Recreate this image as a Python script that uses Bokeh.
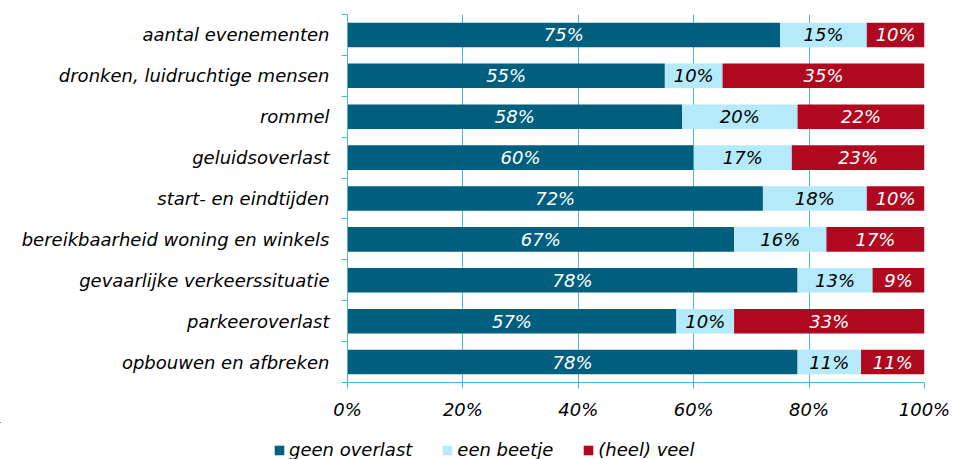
from bokeh.plotting import figure
from bokeh.layouts import column
from bokeh.models import ColumnDataSource, FixedTicker, Legend, LegendItem, Range1d
from bokeh.embed import file_html
from bokeh.resources import INLINE
from bokeh.core.properties import value

categories = [
    "aantal evenementen",
    "dronken, luidruchtige mensen",
    "rommel",
    "geluidsoverlast",
    "start- en eindtijden",
    "bereikbaarheid woning en winkels",
    "gevaarlijke verkeerssituatie",
    "parkeeroverlast",
    "opbouwen en afbreken",
]
geen_overlast = [75, 55, 58, 60, 72, 67, 78, 57, 78]
een_beetje = [15, 10, 20, 17, 18, 16, 13, 10, 11]
heel_veel = [10, 35, 22, 23, 10, 17, 9, 33, 11]
series_names = ["geen overlast", "een beetje", "(heel) veel"]
x_ticks = [0, 20, 40, 60, 80, 100]

colors = ["#005e7e", "#b5eafb", "#b0081e"]
label_colors = ["white", "black", "white"]
grid_color = "#4db6de"
FONT = "DejaVu Sans"
FS = "18px"

n = len(categories)
ys = [n - i for i in range(n)]

src = ColumnDataSource(dict(y=ys, cat=categories, a=geen_overlast, b=een_beetje, c=heel_veel))

p = figure(width=954, height=422, output_backend="svg", toolbar_location=None,
           x_range=Range1d(0, 100), y_range=Range1d(0.5, n + 0.5),
           min_border_left=347, min_border_right=30, min_border_top=14, min_border_bottom=40)
p.frame_align = False
p.outline_line_color = None
p.background_fill_color = "white"

renderers = p.hbar_stack(["a", "b", "c"], y="y", height=0.6, source=src,
                         color=colors, line_color=None)

# labels
vals = [geen_overlast, een_beetje, heel_veel]
for k in range(3):
    xs = []
    for i in range(n):
        start = sum(vals[j][i] for j in range(k))
        xs.append(start + vals[k][i] / 2)
    lsrc = ColumnDataSource(dict(x=xs, y=ys, t=[f"{v}%" for v in vals[k]]))
    p.text(x="x", y="y", text="t", source=lsrc, text_align="center", text_baseline="middle",
           text_color=label_colors[k], text_font=value(FONT), text_font_style="italic",
           text_font_size=FS)

# x axis
p.xaxis.ticker = FixedTicker(ticks=x_ticks)
p.xaxis.major_label_overrides = {t: f"{t}%" for t in x_ticks}
p.xaxis.axis_line_color = grid_color
p.xaxis.major_tick_line_color = grid_color
p.xaxis.major_tick_out = 6
p.xaxis.major_tick_in = 0
p.xaxis.minor_tick_line_color = None
p.xaxis.major_label_text_font = FONT
p.xaxis.major_label_text_font_style = "italic"
p.xaxis.major_label_text_font_size = FS
p.xaxis.major_label_text_color = "black"
p.xaxis.major_label_standoff = 10

# y axis
p.yaxis.ticker = FixedTicker(ticks=ys, minor_ticks=[v + 0.5 for v in range(n + 1)])
p.yaxis.major_label_overrides = {y: c for y, c in zip(ys, categories)}
p.yaxis.axis_line_color = grid_color
p.yaxis.major_tick_line_color = None
p.yaxis.major_tick_out = 0
p.yaxis.major_tick_in = 0
p.yaxis.minor_tick_line_color = grid_color
p.yaxis.minor_tick_out = 6
p.yaxis.minor_tick_in = 0
p.yaxis.major_label_text_font = FONT
p.yaxis.major_label_text_font_style = "italic"
p.yaxis.major_label_text_font_size = FS
p.yaxis.major_label_text_color = "black"
p.yaxis.major_label_standoff = 12

p.xgrid.grid_line_color = grid_color
p.xgrid.grid_line_width = 1
p.ygrid.grid_line_color = None

# legend strip (separate figure below the chart; its bars fall far outside its ranges)
p2 = figure(width=954, height=37, output_backend="svg", toolbar_location=None,
            x_axis_location=None, y_axis_location=None,
            x_range=Range1d(1000, 1100), y_range=Range1d(-100, -99),
            min_border_left=0, min_border_right=0, min_border_top=0, min_border_bottom=0)
p2.frame_align = False
p2.outline_line_color = None
p2.grid.grid_line_color = None
leg_r = p2.hbar_stack(["a", "b", "c"], y="y", height=0.6, source=src,
                      color=colors, line_color=None)

legend = Legend(items=[LegendItem(label=series_names[k], renderers=[leg_r[k]]) for k in range(3)],
                orientation="horizontal", location=(273, -1))
legend.label_text_font = FONT
legend.label_text_font_style = "italic"
legend.label_text_font_size = FS
legend.label_text_color = "black"
legend.label_height = 20
legend.glyph_width = 12
legend.glyph_height = 12
legend.spacing = 29
legend.label_standoff = 4
legend.border_line_color = None
legend.background_fill_alpha = 0
legend.padding = 0
legend.margin = 0
p2.add_layout(legend)

layout = column(p, p2, spacing=0)
open("out.html", "w").write(file_html(layout, INLINE))
